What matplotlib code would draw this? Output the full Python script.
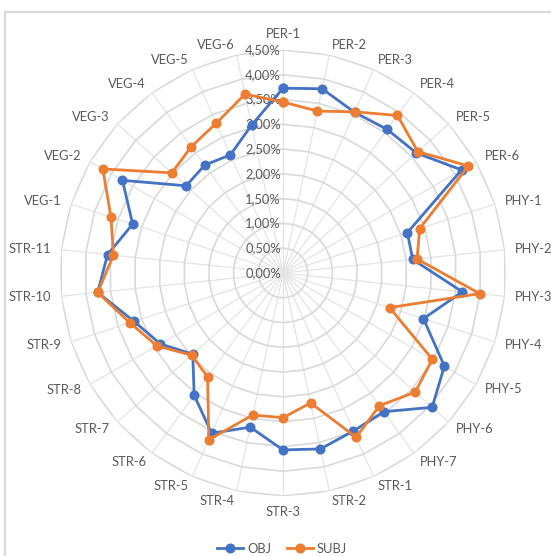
import numpy as np
import matplotlib
matplotlib.use("Agg")
import matplotlib.pyplot as plt
from matplotlib.lines import Line2D

# Category share (%) per indicator, clockwise from the top
categories = (
    [f"PER-{i}" for i in range(1, 7)]
    + [f"PHY-{i}" for i in range(1, 8)]
    + [f"STR-{i}" for i in range(1, 12)]
    + [f"VEG-{i}" for i in range(1, 7)]
)
obj = [3.73, 3.80, 3.55, 3.58, 3.62, 4.16,
       2.64, 2.63, 3.64, 2.98, 3.76, 4.05, 3.46,
       3.49, 3.63, 3.57, 3.18, 3.54, 3.05, 2.45, 2.86, 3.16, 3.76, 3.56,
       3.19, 3.74, 2.63, 2.69, 2.61, 3.05]
subj = [3.45, 3.34, 3.56, 3.93, 3.66, 4.32,
        2.90, 2.72, 3.99, 2.26, 3.48, 3.59, 3.31,
        3.63, 2.68, 2.92, 2.93, 3.68, 2.59, 2.48, 2.94, 3.25, 3.76, 3.44,
        3.65, 4.20, 3.02, 3.15, 3.31, 3.69]
ring_values = [0.0, 0.5, 1.0, 1.5, 2.0, 2.5, 3.0, 3.5, 4.0, 4.5]
ring_labels = ["0,00%", "0,50%", "1,00%", "1,50%", "2,00%",
               "2,50%", "3,00%", "3,50%", "4,00%", "4,50%"]
series_names = ["OBJ", "SUBJ"]

BLUE = "#4472C4"
ORANGE = "#ED7D31"
GRID = "#D9D9D9"
SPOKE = "#E4E4E4"
TEXT = "#595959"
FONT = ["Lato", "DejaVu Sans"]
FS = 9.3

W, H, DPI = 551, 556, 100
fig = plt.figure(figsize=(W / DPI, H / DPI), dpi=DPI)
fig.patch.set_facecolor("white")

# chart-area frame (top and left edges visible)
fig.add_artist(Line2D([5 / W, 5 / W], [0, 1 - 12 / H], color=GRID, lw=1.6,
                      transform=fig.transFigure))
fig.add_artist(Line2D([5 / W, 1], [1 - 12 / H, 1 - 12 / H], color=GRID, lw=1.6,
                      transform=fig.transFigure))

cx, cy, R = 283, 273, 223
ax = fig.add_axes([(cx - R) / W, (H - cy - R) / H, 2 * R / W, 2 * R / H],
                  projection="polar")
ax.set_theta_zero_location("N")
ax.set_theta_direction(-1)
ax.set_ylim(0, 4.5)
ax.grid(False)
ax.set_xticks([])
ax.set_yticks([])
ax.spines["polar"].set_visible(False)
ax.patch.set_alpha(0)

n = len(categories)
theta = np.arange(n) * 2 * np.pi / n
closed = np.append(theta, theta[0])

# polygonal rings and spokes
for t in theta:
    ax.plot([t, t], [0, 4.5], color=SPOKE, lw=0.9, zorder=1)
for v in ring_values[1:]:
    ax.plot(closed, [v] * (n + 1), color=GRID, lw=1.2, zorder=1)

# value axis labels along the top spoke
for v, lab in zip(ring_values, ring_labels):
    ax.annotate(lab, xy=(0, v), xytext=(-1.5, 0), textcoords="offset points",
                ha="right", va="center", fontsize=FS, color=TEXT,
                family=FONT, zorder=3)

# category labels just outside the outer ring
r_lab = 4.5 + 10 * 4.5 / R
for t, lab in zip(theta, categories):
    s, c = np.sin(t), np.cos(t)
    if abs(s) < 1e-6:
        ha, va = "center", ("bottom" if c > 0 else "top")
    else:
        ha, va = ("left" if s > 0 else "right"), "center"
    ax.text(t, r_lab, lab, ha=ha, va=va, fontsize=FS, color=TEXT,
            family=FONT)

for vals, col in ((obj, BLUE), (subj, ORANGE)):
    ax.plot(closed, np.append(vals, vals[0]), color=col, lw=2.0,
            marker="o", markersize=6.2, zorder=4)

handles = [Line2D([], [], color=BLUE, lw=2.0, marker="o", markersize=6.2),
           Line2D([], [], color=ORANGE, lw=2.0, marker="o", markersize=6.2)]
leg = fig.legend(handles, series_names, loc="center",
                 bbox_to_anchor=(282 / W, 1 - 549 / H), ncol=2, frameon=False,
                 handlelength=2.0, handletextpad=0.3, columnspacing=1.2,
                 prop={"family": FONT, "size": FS})
for t in leg.get_texts():
    t.set_color(TEXT)

fig.savefig("out.png", dpi=DPI, facecolor="white")
